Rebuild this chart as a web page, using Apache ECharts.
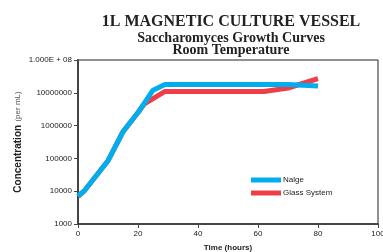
<!DOCTYPE html>
<html>
<head>
<meta charset="utf-8">
<script src="https://cdn.jsdelivr.net/npm/echarts@6/dist/echarts.min.js"></script>
<style>
  html, body { margin: 0; padding: 0; background: #fff; }
  #chart { width: 383px; height: 252px; }
</style>
</head>
<body>
<div id="chart"></div>
<script>
// time (hours) and concentration (per mL)
var nalgeData = [[0, 7000], [2, 10000], [10, 85000], [15, 650000], [20, 2500000], [25, 12000000], [29, 18000000], [70, 18000000], [80, 16000000]]
var glassData = [[0, 7000], [2, 10000], [10, 85000], [15, 650000], [20, 2500000], [22, 4500000], [29, 11000000], [62, 11000000], [70, 14000000], [80, 27000000]]
var seriesNames = ['Nalge', 'Glass System']
var seriesColors = ['#00aeef', '#ef3e48']

var narrow = '"Liberation Sans Narrow", "Liberation Sans", sans-serif'

var chart = echarts.init(document.getElementById('chart'))
chart.setOption({
  animation: false,
  title: [{
    text: '1L MAGNETIC CULTURE VESSEL',
    left: 226,
    top: 9,
    textAlign: 'center',
    textStyle: { fontFamily: '"Liberation Serif", serif', fontWeight: 'bold', fontSize: 16, color: '#222' }
  }, {
    text: 'Saccharomyces Growth Curves\nRoom Temperature',
    left: 226,
    top: 27,
    textAlign: 'center',
    textStyle: { fontFamily: '"Liberation Serif", serif', fontWeight: 'bold', fontSize: 14, lineHeight: 12, color: '#222' }
  }],
  legend: {
    orient: 'vertical',
    left: 246,
    top: 171,
    itemWidth: 30,
    itemHeight: 5,
    itemGap: 5,
    icon: 'rect',
    textStyle: { fontFamily: narrow, fontSize: 8, color: '#222', padding: [0, 0, 0, -3] },
    data: seriesNames
  },
  grid: {
    left: 78,
    right: 5,
    top: 60,
    bottom: 28,
    show: true,
    borderColor: '#222',
    borderWidth: 1,
    containLabel: false,
    outerBoundsMode: 'none'
  },
  xAxis: {
    type: 'value',
    min: 0,
    max: 100,
    interval: 20,
    name: 'Time (hours)',
    nameLocation: 'middle',
    nameGap: 20,
    nameMoveOverlap: false,
    nameTextStyle: { fontFamily: narrow, fontSize: 8, fontWeight: 'bold', color: '#222' },
    axisLine: { lineStyle: { color: '#444', width: 2 } },
    axisTick: { show: true, length: 4, lineStyle: { color: '#444' } },
    axisLabel: { fontFamily: narrow, fontSize: 8, color: '#222', margin: 6 },
    splitLine: { show: false }
  },
  yAxis: {
    type: 'log',
    logBase: 10,
    min: 1000,
    max: 100000000,
    name: '{b|Concentration} {n|(per mL)}',
    nameLocation: 'middle',
    nameGap: 54,
    nameMoveOverlap: false,
    nameTextStyle: {
      rich: {
        b: { fontFamily: '"Liberation Sans", sans-serif', fontSize: 10, fontWeight: 'bold', color: '#222' },
        n: { fontFamily: '"Liberation Sans", sans-serif', fontSize: 8, color: '#555' }
      }
    },
    axisLine: { show: true, lineStyle: { color: '#444', width: 2 } },
    axisTick: { show: true, length: 4, lineStyle: { color: '#444' } },
    axisLabel: {
      fontFamily: narrow,
      fontSize: 8,
      color: '#222',
      margin: 6,
      formatter: function (v) {
        if (v >= 100000000) return '1.000E + 08'
        return String(Math.round(v))
      }
    },
    splitLine: { show: false }
  },
  series: [{
    name: seriesNames[1],
    type: 'line',
    data: glassData,
    symbol: 'none',
    color: seriesColors[1],
    lineStyle: { width: 5, color: seriesColors[1] },
    z: 2
  }, {
    name: seriesNames[0],
    type: 'line',
    data: nalgeData,
    symbol: 'none',
    color: seriesColors[0],
    lineStyle: { width: 5, color: seriesColors[0] },
    z: 3
  }]
})
</script>
</body>
</html>
